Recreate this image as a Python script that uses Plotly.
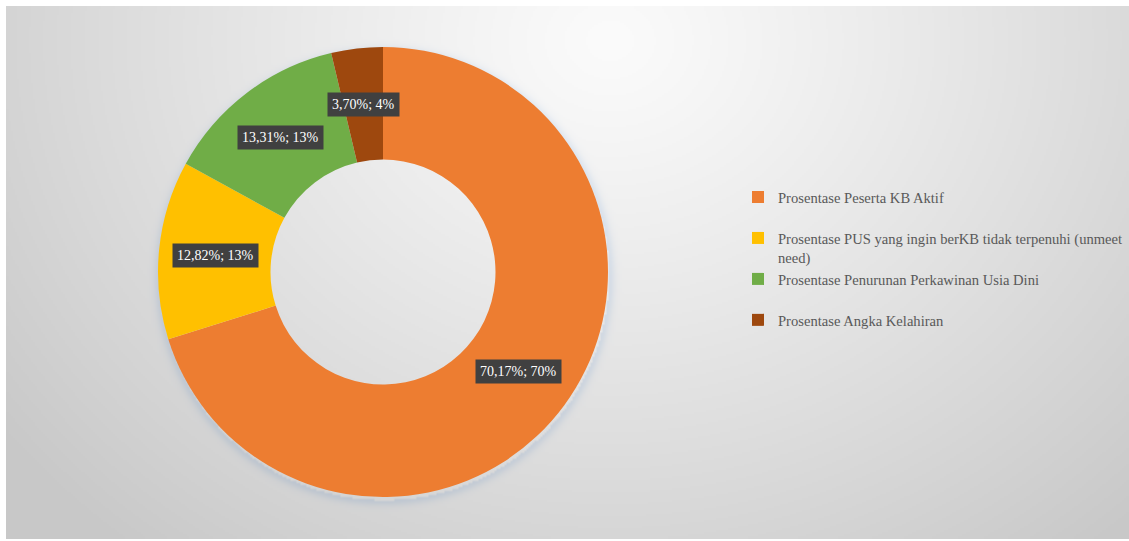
import base64
import math
import struct
import zlib

import numpy as np
import plotly.graph_objects as go

# ---- data ----
categories = [
    "Prosentase Peserta KB Aktif",
    "Prosentase PUS yang ingin berKB tidak terpenuhi (unmeet need)",
    "Prosentase Penurunan Perkawinan Usia Dini",
    "Prosentase Angka Kelahiran",
]
# legend entries: wrapped / padded to two lines for even spacing
legend_names = [
    "Prosentase Peserta KB Aktif<br>&nbsp;",
    "Prosentase PUS yang ingin berKB tidak terpenuhi (unmeet<br>need)",
    "Prosentase Penurunan Perkawinan Usia Dini<br>&nbsp;",
    "Prosentase Angka Kelahiran",
]
percentages = [70.17, 12.82, 13.31, 3.70]
slice_colors = ["#ED7D31", "#FFC000", "#70AD47", "#9E480E"]

# ---- layout constants (pixels) ----
W, H = 1129, 541
CX, CY = 383, 272          # doughnut centre
R_OUT = 225                # outer radius
HOLE = 0.5                 # inner radius / outer radius


def png_data_uri(rgb):
    """Encode an HxWx3 uint8 array as a PNG data URI."""
    h, w, _ = rgb.shape
    raw = b"".join(b"\x00" + rgb[i].tobytes() for i in range(h))

    def chunk(tag, data):
        body = tag + data
        return struct.pack(">I", len(data)) + body + struct.pack(">I", zlib.crc32(body) & 0xFFFFFFFF)

    png = b"\x89PNG\r\n\x1a\n"
    png += chunk(b"IHDR", struct.pack(">IIBBBBB", w, h, 8, 2, 0, 0, 0))
    png += chunk(b"IDAT", zlib.compress(raw, 9))
    png += chunk(b"IEND", b"")
    return "data:image/png;base64," + base64.b64encode(png).decode()


# Soft radial grey backdrop, brightest near the top centre,
# with a faint drop shadow just outside the ring
BG_X0, BG_Y0, BG_X1, BG_Y1 = 6, 6, W, 539
bw, bh = (BG_X1 - BG_X0) // 2, (BG_Y1 - BG_Y0) // 2
gx = np.linspace(BG_X0, BG_X1, bw)
gy = np.linspace(BG_Y0, BG_Y1, bh)
XX, YY = np.meshgrid(gx, gy)
d = np.sqrt(((XX - 610) / 650.0) ** 2 + ((YY - 40) / 560.0) ** 2)
shade = np.clip(251 - 42 * np.power(d, 1.15), 200, 252)
ring_d = np.sqrt((XX - (CX + 1)) ** 2 + (YY - (CY + 4)) ** 2) - R_OUT
shadow = np.where(ring_d > 0, np.exp(-(ring_d / 6.0) ** 2), 0.0)
r_ch = np.clip(shade - 22 * shadow, 0, 255)
g_ch = np.clip(shade - 14 * shadow, 0, 255)
b_ch = np.clip(shade - 4 * shadow, 0, 255)
bg = np.dstack([r_ch, g_ch, b_ch]).astype(np.uint8)
bg_uri = png_data_uri(bg)

# ---- figure ----
fig = go.Figure()

dom_x = [(CX - R_OUT) / W, (CX + R_OUT) / W]
dom_y = [1 - (CY + R_OUT) / H, 1 - (CY - R_OUT) / H]

fig.add_trace(
    go.Pie(
        labels=legend_names,
        values=percentages,
        customdata=categories,
        hole=HOLE,
        sort=False,
        direction="clockwise",
        rotation=0,
        marker=dict(colors=slice_colors, line=dict(width=0)),
        textinfo="none",
        hovertemplate="%{customdata}<br>%{value:.2f}%<extra></extra>",
        domain=dict(x=dom_x, y=dom_y),
        showlegend=True,
    )
)

# Data labels in dark boxes at the middle of each ring segment
annotations = []
total = sum(percentages)
cum = 0.0
r_mid = R_OUT * (1 + HOLE) / 2
for v in percentages:
    mid = (cum + v / 2) / total * 2 * math.pi
    cum += v
    px = CX + r_mid * math.sin(mid)
    py = CY - r_mid * math.cos(mid)
    label = f"{v:.2f}".replace(".", ",") + f"%; {round(v)}%"
    annotations.append(
        dict(
            x=px / W,
            y=1 - py / H,
            xref="paper",
            yref="paper",
            text=label,
            showarrow=False,
            font=dict(family="Liberation Serif, Times New Roman, serif", size=14, color="#FFFFFF"),
            bgcolor="#404040",
            borderpad=4,
            xanchor="center",
            yanchor="middle",
        )
    )

fig.update_layout(
    width=W,
    height=H,
    margin=dict(l=0, r=0, t=0, b=0, autoexpand=False),
    paper_bgcolor="#FFFFFF",
    plot_bgcolor="rgba(0,0,0,0)",
    images=[
        dict(
            source=bg_uri,
            xref="paper",
            yref="paper",
            x=BG_X0 / W,
            y=1 - BG_Y0 / H,
            sizex=(BG_X1 - BG_X0) / W,
            sizey=(BG_Y1 - BG_Y0) / H,
            sizing="stretch",
            xanchor="left",
            yanchor="top",
            layer="below",
        )
    ],
    legend=dict(
        x=738 / W,
        y=1 - 181 / H,
        xanchor="left",
        yanchor="top",
        bgcolor="rgba(0,0,0,0)",
        font=dict(family="Liberation Serif, Times New Roman, serif", size=14.6, color="#595959"),
        itemwidth=30,
        valign="top",
        tracegroupgap=0,
    ),
    annotations=annotations,
)

fig.write_html("out.html")
